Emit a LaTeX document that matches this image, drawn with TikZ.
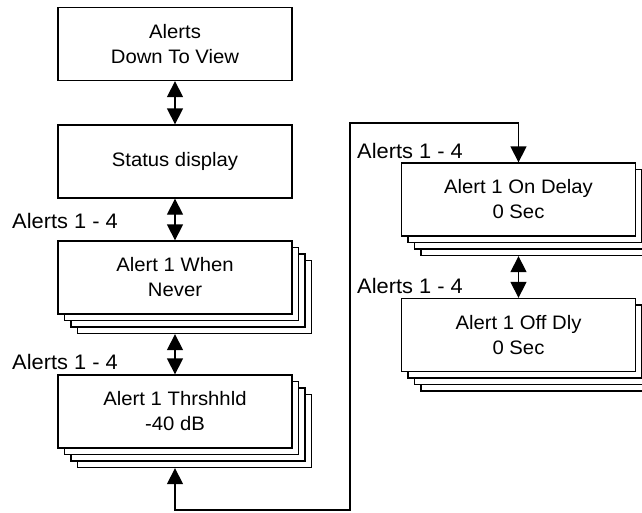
\documentclass[tikz,border=0pt]{standalone}
\usepackage{fontspec}
\setmainfont{Liberation Sans}[FakeStretch=1.04]
\usetikzlibrary{arrows.meta,shadows}
\tikzset{
  menubox/.style={draw, line width=1.3pt, fill=white, minimum width=234pt,
    minimum height=73pt, align=center, inner sep=0pt,
    font=\fontsize{19.5}{25}\selectfont},
  stackbox/.style={menubox,
    copy shadow={shadow xshift=19.5pt, shadow yshift=-19.5pt},
    copy shadow={shadow xshift=13pt, shadow yshift=-13pt},
    copy shadow={shadow xshift=6.5pt, shadow yshift=-6.5pt}},
  grouplbl/.style={anchor=base west, inner sep=0pt, font=\fontsize{21}{25}\selectfont},
  link/.style={line width=1.3pt, {Triangle[width=16pt,length=16pt]}-{Triangle[width=16pt,length=16pt]}}
}
\begin{document}
\begin{tikzpicture}[x=1pt,y=-1pt]
\clip (0,0) rectangle (642,512);
\fill[white] (0,0) rectangle (642,512);
% left column
\node[menubox] (down) at (175,44) {Alerts\\Down To View};
\node[menubox] (status) at (175,161.5) {Status display};
\node[stackbox] (when) at (175,277.5) {Alert 1 When\\Never};
\node[stackbox] (thresh) at (175,411.5) {Alert 1 Thrshhld\\-40 dB};
\node[grouplbl] (whenlbl) at (12,228) {Alerts 1 - 4};
\node[grouplbl] (threshlbl) at (12,369) {Alerts 1 - 4};
% right column
\node[stackbox] (ondly) at (518.5,199.5) {Alert 1 On Delay\\0 Sec};
\node[stackbox] (offdly) at (518.5,335) {Alert 1 Off Dly\\0 Sec};
\node[grouplbl] (ondlylbl) at (357,158) {Alerts 1 - 4};
\node[grouplbl] (offdlylbl) at (357,293) {Alerts 1 - 4};
\coordinate (loopb) at (350,510);
\coordinate (loopt) at (350,123);
% connectors
\draw[link] (down) -- (status);
\draw[link] (status) -- (when);
\draw[link] ([yshift=-19.5pt]when.south) -- (thresh);
\draw[link] ([yshift=-19.5pt]ondly.south) -- (offdly);
\draw[link] ([yshift=-19.5pt]thresh.south) |- (loopb) -- (loopt) -| (ondly.north);
\end{tikzpicture}
\end{document}
